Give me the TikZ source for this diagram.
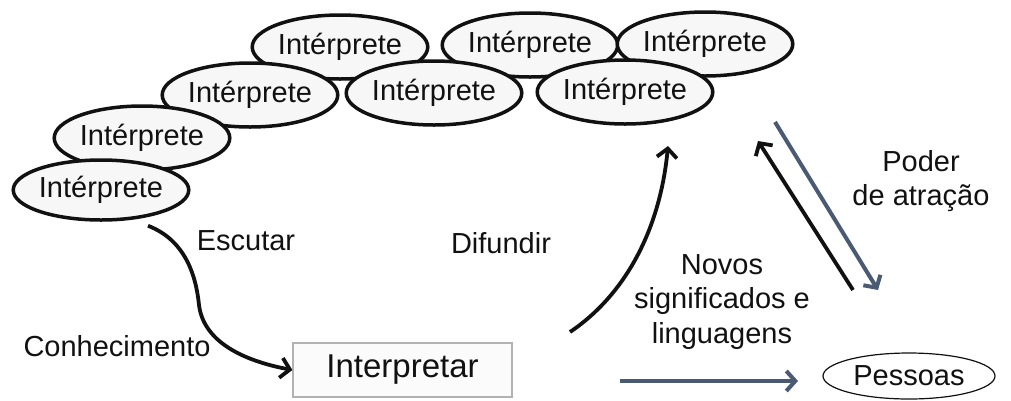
\documentclass[tikz,border=0pt]{standalone}
\usepackage{fontspec}
\setmainfont{Liberation Sans}
\usetikzlibrary{arrows.meta,shapes.geometric}
\definecolor{slate}{RGB}{74,90,115}
\definecolor{ink}{RGB}{17,17,17}
\tikzset{
  interp/.style={ellipse, draw=ink, line width=3.5pt, fill=gray!6, inner sep=0pt,
    minimum width=156pt, minimum height=64pt, font=\fontsize{29}{30}\selectfont, text=ink},
  lbl/.style={font=\fontsize{29}{34.5}\selectfont, text=ink, align=center, inner sep=0pt},
  blackarrow/.style={draw=ink, line width=3.8pt, -{Straight Barb[length=9pt,width=20pt]}},
  slatearrow/.style={draw=slate, line width=4pt, -{Straight Barb[length=9pt,width=20pt]}},
}
\begin{document}
\begin{tikzpicture}[x=1pt,y=-1pt]
\useasboundingbox (0,0) rectangle (1011,400);
% upper row of interpreters
\node[interp] (e4) at (340,47) {Intérprete};
\node[interp] (e6) at (530,45) {Intérprete};
\node[interp] (e8) at (705,44) {Intérprete};
% lower row of interpreters
\node[interp] (e3) at (250,95) {Intérprete};
\node[interp] (e5) at (434,93) {Intérprete};
\node[interp] (e7) at (625,92) {Intérprete};
\node[interp] (e2) at (142,138) {Intérprete};
\node[interp, minimum height=60pt] (e1) at (101,190) {Intérprete};

% central process and target audience
\node[draw=gray!60, line width=1.2pt, fill=gray!3, minimum width=219pt, minimum height=54pt,
  font=\fontsize{33}{35}\selectfont, text=ink] (interp) at (402.5,370) {Interpretar};
\node[ellipse, draw=ink, line width=1.2pt, fill=white, minimum width=172pt, minimum height=46pt,
  inner sep=0pt, font=\fontsize{29}{30}\selectfont, text=ink] (pess) at (909,376) {Pessoas};

% labels
\node[lbl] (escutar) at (246,241) {Escutar};
\node[lbl] (difundir) at (501,243) {Difundir};
\node[lbl] (conhec) at (117,346) {Conhecimento};
\node[lbl] (novos) at (722,302) {Novos\\significados e\\linguagens};
\node[lbl] (poder) at (921,181) {Poder\\de atração};

% connector ends
\coordinate (difA) at (570,332);
\coordinate (difB) at (668,146);
\coordinate (upA) at (853,290);
\coordinate (upB) at (758,141);
\coordinate (dnA) at (775,122);
\coordinate (dnB) at (878,290);
\coordinate (hzA) at (620,381);
\coordinate (hzB) at (798,381);

% arrows
\draw[blackarrow] (e1.south) ++(47,4) coordinate (escA)
  .. controls (185,240) and (196,275) .. (199,305)
  .. controls (204,345) and (250,362) .. (interp.west);
\draw[blackarrow] (difA) .. controls (625,295) and (660,230) .. (difB);
\draw[blackarrow] (upA) -- (upB);
\draw[slatearrow] (dnA) -- (dnB);
\draw[slatearrow] (hzA) -- (hzB);
\end{tikzpicture}
\end{document}
